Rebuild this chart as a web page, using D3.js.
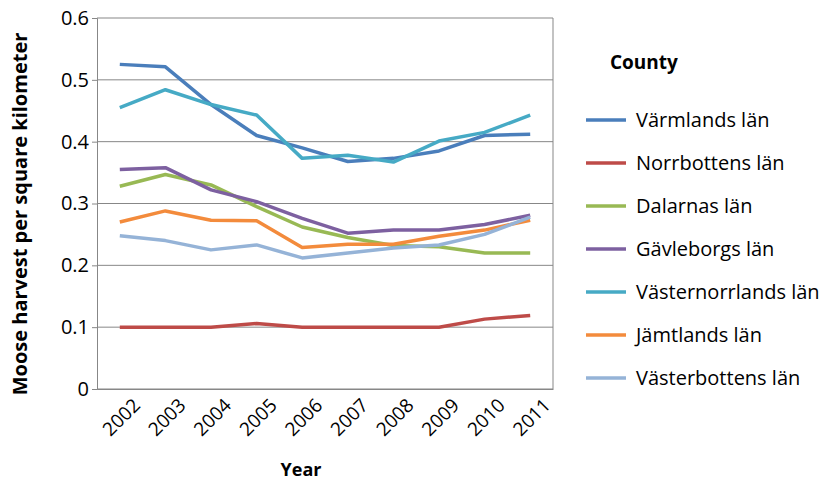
<!DOCTYPE html>
<html><head><meta charset="utf-8">
<script src="https://cdn.jsdelivr.net/npm/d3@7"></script>
<style>body{margin:0;background:#fff;font-family:"Open Sans",Arial,sans-serif}</style>
</head><body><div id="chart"></div>
<script>
const years = ["2002","2003","2004","2005","2006","2007","2008","2009","2010","2011"];
const counties = ["Värmlands län","Norrbottens län","Dalarnas län","Gävleborgs län","Västernorrlands län","Jämtlands län","Västerbottens län"];
const colors = ["#4A7EBB","#BE4B48","#98B954","#7D60A0","#46AAC5","#F38B3C","#95B3D7"];
const varmland = [0.525,0.521,0.46,0.41,0.39,0.368,0.373,0.385,0.41,0.412];
const norrbotten = [0.1,0.1,0.1,0.106,0.1,0.1,0.1,0.1,0.113,0.119];
const dalarna = [0.328,0.347,0.33,0.295,0.262,0.245,0.232,0.23,0.22,0.22];
const gavleborg = [0.355,0.358,0.322,0.303,0.276,0.252,0.257,0.257,0.266,0.281];
const vasternorrland = [0.455,0.484,0.46,0.443,0.373,0.378,0.367,0.401,0.415,0.443];
const jamtland = [0.27,0.288,0.273,0.272,0.229,0.234,0.234,0.247,0.257,0.273];
const vasterbotten = [0.248,0.24,0.225,0.233,0.212,0.22,0.228,0.233,0.25,0.278];
const series = [varmland,norrbotten,dalarna,gavleborg,vasternorrland,jamtland,vasterbotten];

const W = 829, H = 483;
const svg = d3.select("#chart").append("svg").attr("width", W).attr("height", H);
const x = d3.scaleBand().domain(years).range([97, 553]);
const y = d3.scaleLinear().domain([0, 0.6]).range([389, 18]);

// gridlines
svg.append("g").selectAll("line").data(y.ticks(6)).join("line")
  .attr("x1", 97).attr("x2", 553).attr("y1", d => y(d)).attr("y2", d => y(d))
  .attr("stroke", "#878787").attr("stroke-width", 1);
svg.append("line").attr("x1", 553).attr("x2", 553).attr("y1", 18).attr("y2", 389).attr("stroke", "#878787");

const yAxis = svg.append("g").attr("transform", "translate(97,0)")
  .call(d3.axisLeft(y).ticks(6).tickFormat(d => d === 0 ? "0" : d3.format(".1f")(d)).tickSize(5));
yAxis.select(".domain").attr("stroke", "#878787");
yAxis.selectAll("line").attr("stroke", "#878787");
yAxis.selectAll("text").attr("font-size", 20).attr("fill", "#000").attr("font-family", "Open Sans");

const xAxis = svg.append("g").attr("transform", "translate(0,389)")
  .call(d3.axisBottom(x).tickSize(0));
xAxis.select(".domain").attr("stroke", "#878787");
xAxis.selectAll("text").attr("font-size", 19).attr("fill", "#000").attr("font-family", "Open Sans")
  .attr("text-anchor", "end").attr("transform", "translate(10,6) rotate(-45)").attr("dy", "0.7em");

const line = d3.line().x((d, i) => x(years[i]) + x.bandwidth() / 2).y(d => y(d));
svg.append("g").selectAll("path").data(series).join("path")
  .attr("d", line).attr("fill", "none")
  .attr("stroke", (d, i) => colors[i]).attr("stroke-width", 3.5).attr("stroke-linejoin", "round");

svg.append("text").attr("x", 301).attr("y", 476).attr("text-anchor", "middle")
  .attr("font-weight", "bold").attr("font-size", 18).text("Year");
svg.append("text").attr("transform", "translate(27,214) rotate(-90)").attr("text-anchor", "middle")
  .attr("font-weight", "bold").attr("font-size", 20).text("Moose harvest per square kilometer");

// legend
svg.append("text").attr("x", 610).attr("y", 69).attr("font-weight", "bold").attr("font-size", 19).text("County");
const lg = svg.append("g").selectAll("g").data(counties).join("g")
  .attr("transform", (d, i) => `translate(586,${120 + i * 43})`);
lg.append("line").attr("x1", 0).attr("x2", 40).attr("stroke", (d, i) => colors[i]).attr("stroke-width", 3.5);
lg.append("text").attr("x", 50).attr("dy", "0.35em").attr("font-size", 20).text(d => d);
</script></body></html>
